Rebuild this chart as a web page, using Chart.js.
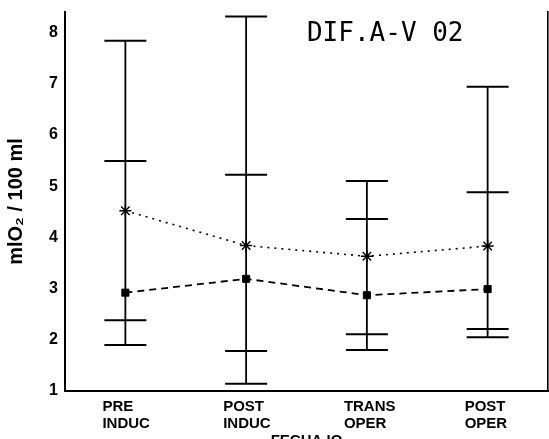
<!DOCTYPE html>
<html>
<head>
<meta charset="utf-8">
<style>
  html, body { margin: 0; padding: 0; background: #fff; overflow: hidden; width: 549px; height: 439px; }
  #c { display: block; }
</style>
<script src="https://cdn.jsdelivr.net/npm/chart.js@4/dist/chart.umd.min.js"></script>
</head>
<body>
<canvas id="c" width="549" height="450" style="width:549px;height:450px"></canvas>
<script>
// ---- data ----
const categories = [["PRE", "INDUC"], ["POST", "INDUC"], ["TRANS", "OPER"], ["POST", "OPER"]];
const starMean   = [4.52, 3.84, 3.63, 3.83];   // asterisk series (dotted)
const squareMean = [2.92, 3.19, 2.87, 2.99];   // square series (dashed)
const outerHigh  = [7.84, 8.31, 5.10, 6.94];
const innerHigh  = [5.49, 5.22, 4.36, 4.88];
const innerLow   = [2.38, 1.78, 2.11, 2.21];
const outerLow   = [1.90, 1.14, 1.80, 2.05];
const yTicks     = [1, 2, 3, 4, 5, 6, 7, 8];
const chartTitle = "DIF.A-V 02";
const yTitle     = "mlO\u2082 / 100 ml";
const xTitle     = "FECHA IQ";

// ---- derived datasets ----
const pts = arr => arr.map((v, i) => ({ x: i, y: v }));
const whiskers = [];
categories.forEach((_, i) => {
  whiskers.push({ x: i, y: outerLow[i] }, { x: i, y: outerHigh[i] }, { x: i, y: null });
});
const caps = [].concat(pts(outerHigh), pts(innerHigh), pts(innerLow), pts(outerLow));

const titlePlugin = {
  id: 'insideTitle',
  afterDraw(chart) {
    const { ctx, chartArea } = chart;
    ctx.save();
    ctx.font = '26px "DejaVu Sans Mono", monospace';
    ctx.fillStyle = '#000';
    ctx.textAlign = 'center';
    ctx.textBaseline = 'middle';
    ctx.fillText(chartTitle, chartArea.left + (chartArea.right - chartArea.left) * 0.663, chartArea.top + 22);
    ctx.restore();
  }
};

const zeroPad = s => { s.paddingLeft = 0; s.paddingRight = 0; s.paddingTop = 0; s.paddingBottom = 0; };
const tickFont = { family: '"Liberation Sans", Arial, sans-serif', weight: 'bold', size: 16 };
const catFont = { family: '"Liberation Sans", Arial, sans-serif', weight: 'bold', size: 15, lineHeight: 1.15 };

new Chart(document.getElementById('c'), {
  type: 'line',
  data: {
    datasets: [
      {
        label: 'whiskers', data: whiskers, borderColor: '#000', borderWidth: 1.8,
        pointRadius: 0, spanGaps: false, fill: false, order: 3
      },
      {
        label: 'caps', data: caps, showLine: false, pointStyle: 'line', pointRadius: 21,
        pointBorderWidth: 2, pointBorderColor: '#000', pointBackgroundColor: '#000', order: 2
      },
      {
        label: 'star', data: pts(starMean), borderColor: '#000', borderWidth: 1.6,
        borderDash: [2, 5], pointStyle: 'star', pointRadius: 6, pointBorderWidth: 1.4,
        pointBorderColor: '#000', pointBackgroundColor: '#000', fill: false, order: 1
      },
      {
        label: 'square', data: pts(squareMean), borderColor: '#000', borderWidth: 1.8,
        borderDash: [7, 5], pointStyle: 'rect', pointRadius: 5, pointBorderWidth: 1,
        pointBorderColor: '#000', pointBackgroundColor: '#000', fill: false, order: 0
      }
    ]
  },
  options: {
    responsive: false,
    animation: false,
    layout: { autoPadding: false, padding: { top: 12, right: 1, left: 0, bottom: 0 } },
    plugins: { legend: { display: false }, tooltip: { enabled: false }, title: { display: false } },
    scales: {
      x: {
        type: 'linear', min: -0.5, max: 3.5,
        afterBuildTicks: scale => { scale.ticks = categories.map((_, i) => ({ value: i })); },
        afterFit: scale => { zeroPad(scale); scale.height = 59; },
        grid: { display: false, drawTicks: false },
        border: { display: true, color: '#000', width: 2 },
        ticks: {
          callback: v => categories[v], color: '#000', font: catFont,
          align: 'start', labelOffset: -23, padding: 7, maxRotation: 0, autoSkip: false
        },
        title: { display: true, text: xTitle, color: '#000', font: { family: '"Liberation Sans", Arial, sans-serif', weight: 'bold', size: 15 }, padding: { top: 2, bottom: 0 } }
      },
      y: {
        type: 'linear', min: 1, max: 8.4, position: 'left',
        afterBuildTicks: scale => { scale.ticks = yTicks.map(v => ({ value: v })); },
        afterFit: scale => { zeroPad(scale); scale.width = 65; },
        grid: { display: false, drawTicks: false },
        border: { display: true, color: '#000', width: 2 },
        ticks: { color: '#000', font: tickFont, padding: 7 },
        title: { display: true, text: yTitle, color: '#000', font: { family: '"Liberation Sans", Arial, sans-serif', weight: 'bold', size: 20 }, padding: { top: 4, bottom: 0 } }
      },
      y2: {
        type: 'linear', min: 1, max: 8.4, position: 'right',
        afterFit: scale => { zeroPad(scale); scale.width = 0; },
        grid: { display: false, drawTicks: false },
        border: { display: true, color: '#000', width: 1.6 },
        ticks: { display: false }
      }
    }
  },
  plugins: [titlePlugin]
});
</script>
</body>
</html>
